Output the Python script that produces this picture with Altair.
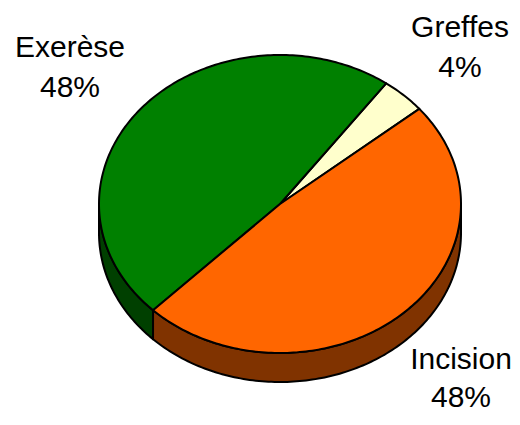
import numpy as np
import pandas as pd
import altair as alt

# ---- data ----
labels = ["Greffes", "Exerèse", "Incision"]
values = [4.0, 47.6, 48.4]
top_colors = ["#FFFFCC", "#008000", "#FF6600"]
side_colors = ["#80806A", "#004000", "#803300"]

# ---- layout (plot coordinates, pixels) ----
W, H = 504, 405
CX, CY = 272, 196
RX, RY = 181, 149
DEPTH = 29
START = 39.7  # degrees, counter-clockwise from 3 o'clock
LABEL_POS = {
    "Greffes": (452, 29, 69),
    "Exerèse": (62, 49, 89),
    "Incision": (453, 361, 399),
}

total = float(sum(values))


def ell(a, dy=0.0):
    r = np.deg2rad(a)
    return CX + RX * np.cos(r), CY - RY * np.sin(r) + dy


top_rows, side_rows = [], []
cum = START
for lab, v in zip(labels, values):
    a0, a1 = cum, cum + v / total * 360.0
    cum = a1
    n = max(2, int(np.ceil(a1 - a0)))
    pts = [(CX, CY)] + [ell(a) for a in np.linspace(a0, a1, n + 1)] + [(CX, CY)]
    for i, (x, y) in enumerate(pts):
        top_rows.append({"slice": lab, "i": i, "x": x, "y": y})
    # visible front side (180..360 degrees)
    for k in (-360, 0, 360):
        lo, hi = max(a0 + k, 180.0), min(a1 + k, 360.0)
        if hi > lo:
            m = max(2, int(np.ceil(hi - lo)))
            arc = np.linspace(lo, hi, m + 1)
            spts = [ell(a) for a in arc] + [ell(a, DEPTH) for a in arc[::-1]]
            spts.append(spts[0])
            for i, (x, y) in enumerate(spts):
                side_rows.append({"slice": f"{lab}{k}", "key": lab, "i": i, "x": x, "y": y})

top_df = pd.DataFrame(top_rows)
side_df = pd.DataFrame(side_rows)

text_rows = []
for lab, v in zip(labels, values):
    x, y1, y2 = LABEL_POS[lab]
    text_rows.append({"t": lab, "x": x, "y": y1})
    text_rows.append({"t": f"{round(v)}%", "x": x, "y": y2})
text_df = pd.DataFrame(text_rows)

xs = alt.Scale(domain=[0, W], nice=False, zero=False)
ys = alt.Scale(domain=[0, H], nice=False, zero=False, reverse=True)

side = alt.Chart(side_df).mark_line(stroke="black", strokeWidth=2, strokeJoin="round").encode(
    x=alt.X("x:Q", scale=xs, axis=None),
    y=alt.Y("y:Q", scale=ys, axis=None),
    fill=alt.Fill("key:N", scale=alt.Scale(domain=labels, range=side_colors), legend=None),
    detail="slice:N",
    order=alt.Order("i:Q"),
)

top = alt.Chart(top_df).mark_line(stroke="black", strokeWidth=2, strokeJoin="round").encode(
    x=alt.X("x:Q", scale=xs, axis=None),
    y=alt.Y("y:Q", scale=ys, axis=None),
    fill=alt.Fill("slice:N", scale=alt.Scale(domain=labels, range=top_colors), legend=None),
    detail="slice:N",
    order=alt.Order("i:Q"),
)

text = alt.Chart(text_df).mark_text(
    font="Liberation Sans", fontSize=30, color="black", align="center", baseline="alphabetic"
).encode(
    x=alt.X("x:Q", scale=xs, axis=None),
    y=alt.Y("y:Q", scale=ys, axis=None),
    text="t:N",
)

chart = (
    alt.layer(side, top, text)
    .resolve_scale(fill="independent")
    .properties(width=W, height=H, padding=0, autosize=alt.AutoSizeParams(type="none"), background="white")
    .configure_view(stroke=None)
)

chart.save("out.html", embed_options={"renderer": "svg", "actions": False})
